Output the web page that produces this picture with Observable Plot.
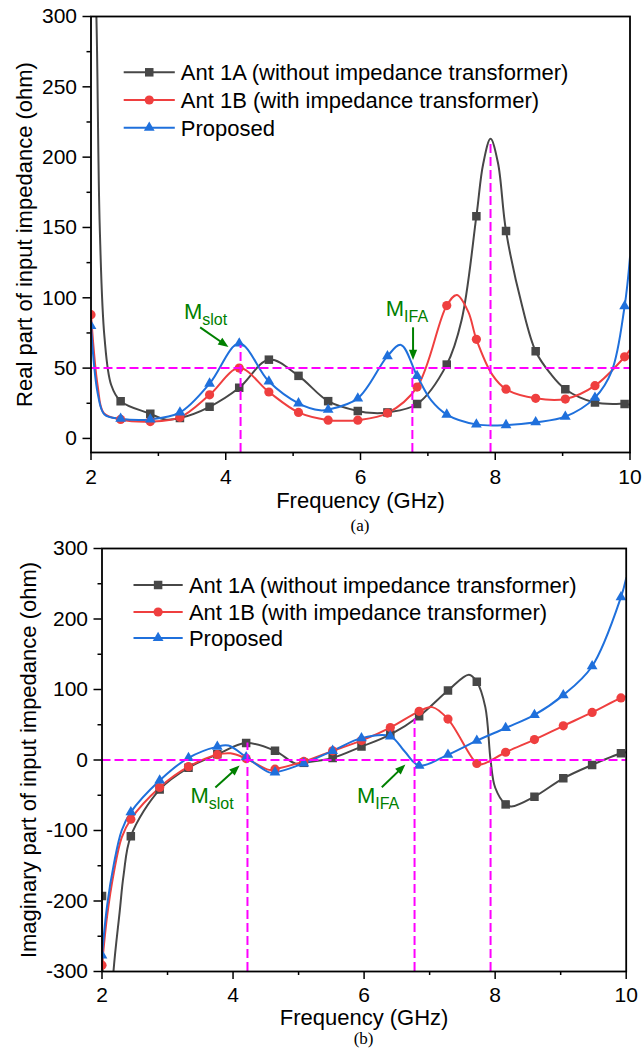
<!DOCTYPE html>
<html><head><meta charset="utf-8">
<script src="https://cdn.jsdelivr.net/npm/d3@7"></script>
<script src="https://cdn.jsdelivr.net/npm/@observablehq/plot@0.6"></script>
<style>
body{margin:0;background:#fff;}
#wrap{position:relative;width:643px;height:1049px;overflow:hidden;font-family:"Liberation Sans",Arial,sans-serif;}
.panel{position:absolute;left:0;}
.cap{position:absolute;font-family:"Liberation Serif","Times New Roman",serif;font-size:17px;transform:translate(-50%,-50%);}
#leg{position:absolute;left:0;top:0;}
</style></head><body><div id="wrap"></div>
<script>
// ---------- data ----------
const freqMarkers = [2.00,2.44,2.88,3.32,3.76,4.20,4.64,5.08,5.52,5.96,6.40,6.84,7.28,7.72,8.16,8.60,9.04,9.48,9.92];
const seriesNames = ["Ant 1A (without impedance transformer)", "Ant 1B (with impedance transformer)", "Proposed"];
const seriesColors = ["#474747", "#ef3f3f", "#1f70dc"];
const seriesSymbols = ["square", "circle", "triangle"];

// (a) real part — marker values
const reAnt1A = [420, 26.5, 17.5, 14.5, 22.5, 36, 56, 44.5, 26.5, 19.5, 18.5, 24.5, 52.5, 158, 147.5, 62, 35, 25.5, 24.5];
const reAnt1B = [88, 13.5, 12, 15, 31, 50, 33, 18.5, 13, 13, 18, 36.5, 94.5, 70.5, 35, 28.5, 28, 37.5, 58];
const reProp  = [80, 14, 13.5, 18.5, 39, 67.5, 40.5, 25, 20.5, 28.5, 58.5, 44.5, 17, 10, 9.5, 11.5, 15.5, 29, 94];
// (a) extra curve points read between markers
const reAnt1AKnots = [[2.03,370],[2.08,300],[2.13,150],[2.2,72],[2.3,38],[3.1,13.5],[6.2,18],[7.5,84],[7.82,195],[7.93,213],[8.04,196],[8.4,94],[8.82,46],[10,24]];
const reAnt1BKnots = [[2.1,37],[2.19,18],[5.74,12.5],[7.43,102],[7.6,90],[7.96,45],[10,63]];
const rePropKnots  = [[2.1,32],[2.2,17],[5.4,20],[6.6,66.5],[7.05,27],[9.73,48],[10,129]];

// (b) imaginary part — marker values
const imAnt1A = [-193, -108, -42, -11, 8, 24, 13, -4, 3, 19, 36, 62, 98.5, 111, -63, -52, -26, -7, 9.5];
const imAnt1B = [-291, -84, -39, -9.5, 7.6, 2, -13, -2, 13, 27.5, 46, 69, 58, -5, 11, 29, 48.5, 67.5, 88];
const imProp  = [-277, -74, -29, 3, 19, 4, -17.5, -4.7, 13, 31, 33.6, -8, 7.6, 27.4, 45.4, 64, 92, 133, 231];
const imAnt1AKnots = [[2.02,-330],[2.1,-420],[2.175,-300],[2.27,-215],[2.33,-163],[4.95,-5],[7.6,121],[7.85,75],[7.93,0],[8.0,-39],[8.25,-66],[10,11]];
const imAnt1BKnots = [[2.08,-220],[2.18,-160],[2.3,-110],[3.96,9.5],[4.55,-14],[7.04,75],[7.8,-6],[10,90]];
const imPropKnots  = [[2.08,-205],[2.18,-148],[2.3,-100],[3.93,20.5],[4.55,-17.5],[6.62,12],[10,258]];

// reference lines
const refLevelA = [50];
const refLevelB = [0];
const vLinesA = [{f:4.22, top:66}, {f:6.77, top:50}, {f:7.93, top:210}];
const vLinesB = [{f:4.22, top:24}, {f:6.77, top:58}, {f:7.93, top:0}];

// annotations
const labelsA = [{f:3.38, v:85, main:"M", sub:"slot"}, {f:6.375, v:87.3, main:"M", sub:"IFA"}];
const arrowsA = [{f1:3.62, v1:79, f2:4.04, v2:65}, {f1:6.78, v1:79, f2:6.78, v2:55.7}];
const labelsB = [{f:3.35, v:-61.5, main:"M", sub:"slot"}, {f:5.89, v:-61.5, main:"M", sub:"IFA"}];
const arrowsB = [{f1:3.73, v1:-39, f2:4.10, v2:-7.8}, {f1:6.27, v1:-38.6, f2:6.63, v2:-6.4}];

// axes
const xTicks = [2,4,6,8,10];
const xMinor = [3,5,7,9];
const yTicksA = [0,50,100,150,200,250,300];
const yMinorA = [25,75,125,175,225,275];
const yTicksB = [-300,-200,-100,0,100,200,300];
const yMinorB = [-250,-150,-50,50,150,250];

// ---------- build ----------
const magenta = "#ff00ff", green = "#008000";
function knots(vals, extra) {
  return vals.map((v, i) => ({f: freqMarkers[i], v}))
    .concat(extra.map(([f, v]) => ({f, v})))
    .sort((a, b) => a.f - b.f);
}
function markers(vals) { return vals.map((v, i) => ({f: freqMarkers[i], v})); }
const headSymbol = {draw(ctx, size) {
  const r = Math.sqrt(size / Math.PI), L = 2.4 * r, W = 0.95 * r;
  ctx.moveTo(0, 0); ctx.lineTo(-W, L); ctx.lineTo(W, L); ctx.closePath();
}};
const symbolR = {square: 4.8, circle: 4.6, triangle: 4.0};
const plain = d => String(d);

function makePanel(p) {
  const iw = p.width - p.ml - p.mr, ih = p.height - p.mt - p.mb;
  const kx = iw / (p.xDomain[1] - p.xDomain[0]), ky = ih / (p.yDomain[1] - p.yDomain[0]);
  const arrows = p.arrows.map(a => {
    const dx = (a.f2 - a.f1) * kx, dy = -(a.v2 - a.v1) * ky;
    const len = Math.hypot(dx, dy), ux = dx / len, uy = dy / len, back = 7;
    return {...a, fe: a.f2 - back * ux / kx, ve: a.v2 + back * uy / ky, angle: Math.atan2(dx, -dy) * 180 / Math.PI};
  });
  const marks = [];
  p.series.forEach((s, i) => {
    marks.push(Plot.line(knots(s.vals, s.extra), {x: "f", y: "v", stroke: seriesColors[i], strokeWidth: 2, curve: "catmull-rom", clip: true}));
  });
  p.series.forEach((s, i) => {
    marks.push(Plot.dot(markers(s.vals), {x: "f", y: "v", symbol: seriesSymbols[i], r: symbolR[seriesSymbols[i]], fill: seriesColors[i], clip: true}));
  });
  marks.push(
    Plot.ruleY(p.level, {stroke: magenta, strokeWidth: 2, strokeDasharray: "9,4"}),
    Plot.ruleX(p.vlines, {x: "f", y1: p.yDomain[0], y2: "top", stroke: magenta, strokeWidth: 2, strokeDasharray: "9,4"}),
    Plot.link(arrows, {x1: "f1", y1: "v1", x2: "fe", y2: "ve", stroke: green, strokeWidth: 2}),
    Plot.dot(arrows, {x: "f2", y: "v2", symbol: headSymbol, r: 4.3, fill: green, rotate: "angle"}),
    Plot.text(p.labels, {x: "f", y: "v", text: "main", fill: green, fontSize: 22, textAnchor: "start", lineAnchor: "bottom"}),
    Plot.text(p.labels, {x: "f", y: "v", text: "sub", fill: green, fontSize: 16, textAnchor: "start", lineAnchor: "bottom", dx: 18.3, dy: 6}),
    Plot.frame({stroke: "black", strokeWidth: 1.8}),
    Plot.axisX(xTicks, {tickSize: 8, tickPadding: p.xPad, fontSize: 21, strokeWidth: 1.5, label: null, tickFormat: plain}),
    Plot.axisX(xMinor, {tickSize: 4, tickFormat: () => "", strokeWidth: 1.5, label: null}),
    Plot.axisY(p.yTicks, {tickSize: 8, tickPadding: 6, fontSize: 21, strokeWidth: 1.5, label: null, tickFormat: plain}),
    Plot.axisY(p.yMinor, {tickSize: 4, tickFormat: () => "", strokeWidth: 1.5, label: null}),
    Plot.text([p.xTitle], {frameAnchor: "bottom", dy: p.xTitleDy, text: d => d, fontSize: 22, textAnchor: "middle", lineAnchor: "middle"}),
    Plot.text([p.yTitle], {frameAnchor: "left", dx: p.yTitleDx, rotate: -90, text: d => d, fontSize: 22, textAnchor: "middle", lineAnchor: "middle"})
  );
  return Plot.plot({
    width: p.width, height: p.height,
    marginTop: p.mt, marginRight: p.mr, marginBottom: p.mb, marginLeft: p.ml,
    x: {domain: p.xDomain, label: null},
    y: {domain: p.yDomain, label: null},
    style: {fontFamily: "'Liberation Sans', Arial, sans-serif", fontSize: "21px", color: "black", background: "transparent", overflow: "visible"},
    marks
  });
}

const wrap = document.getElementById("wrap");
const panelA = makePanel({
  width: 643, height: 515, mt: 16, mr: 13.5, mb: 63, ml: 90.5,
  xDomain: [2, 10], yDomain: [-10, 300], yTicks: yTicksA, yMinor: yMinorA, xPad: 9,
  series: [{vals: reAnt1A, extra: reAnt1AKnots}, {vals: reAnt1B, extra: reAnt1BKnots}, {vals: reProp, extra: rePropKnots}],
  level: refLevelA, vlines: vLinesA, labels: labelsA, arrows: arrowsA,
  xTitle: "Frequency (GHz)", xTitleDy: 48.5, yTitle: "Real part of input impedance (ohm)", yTitleDx: -66
});
panelA.classList.add("panel"); panelA.style.top = "0px";
wrap.appendChild(panelA);

const panelB = makePanel({
  width: 643, height: 519, mt: 18, mr: 17.3, mb: 78, ml: 101.5,
  xDomain: [2, 10], yDomain: [-300, 300], yTicks: yTicksB, yMinor: yMinorB, xPad: 8,
  series: [{vals: imAnt1A, extra: imAnt1AKnots}, {vals: imAnt1B, extra: imAnt1BKnots}, {vals: imProp, extra: imPropKnots}],
  level: refLevelB, vlines: vLinesB, labels: labelsB, arrows: arrowsB,
  xTitle: "Frequency (GHz)", xTitleDy: 46.5, yTitle: "Imaginary part of input impedance (ohm)", yTitleDx: -73
});
panelB.classList.add("panel"); panelB.style.top = "530px";
wrap.appendChild(panelB);

// captions
[["(a)", 360, 526], ["(b)", 363.6, 1039]].forEach(([t, x, y]) => {
  const d = document.createElement("div"); d.className = "cap"; d.textContent = t;
  d.style.left = x + "px"; d.style.top = y + "px"; wrap.appendChild(d);
});

// legends
const leg = d3.select(wrap).append("svg").attr("id", "leg").attr("width", 643).attr("height", 1049);
const legendBoxes = [{x0: 123.7, x1: 174.8, tx: 180.8, rows: [72.3, 100, 127.7]}, {x0: 133.5, x1: 182.7, tx: 188.9, rows: [585, 612, 638]}];
legendBoxes.forEach(b => {
  seriesNames.forEach((name, i) => {
    const y = b.rows[i], xm = (b.x0 + b.x1) / 2;
    leg.append("line").attr("x1", b.x0).attr("x2", b.x1).attr("y1", y).attr("y2", y).attr("stroke", seriesColors[i]).attr("stroke-width", 2);
    const sym = {square: d3.symbolSquare, circle: d3.symbolCircle, triangle: d3.symbolTriangle}[seriesSymbols[i]];
    const r = symbolR[seriesSymbols[i]];
    leg.append("path").attr("d", d3.symbol(sym, Math.PI * r * r)()).attr("transform", `translate(${xm},${y})`).attr("fill", seriesColors[i]);
    leg.append("text").attr("x", b.tx).attr("y", y + 7.8).attr("font-size", 22).attr("fill", "black")
      .attr("font-family", "'Liberation Sans', Arial, sans-serif").text(name);
  });
});
</script></body></html>
